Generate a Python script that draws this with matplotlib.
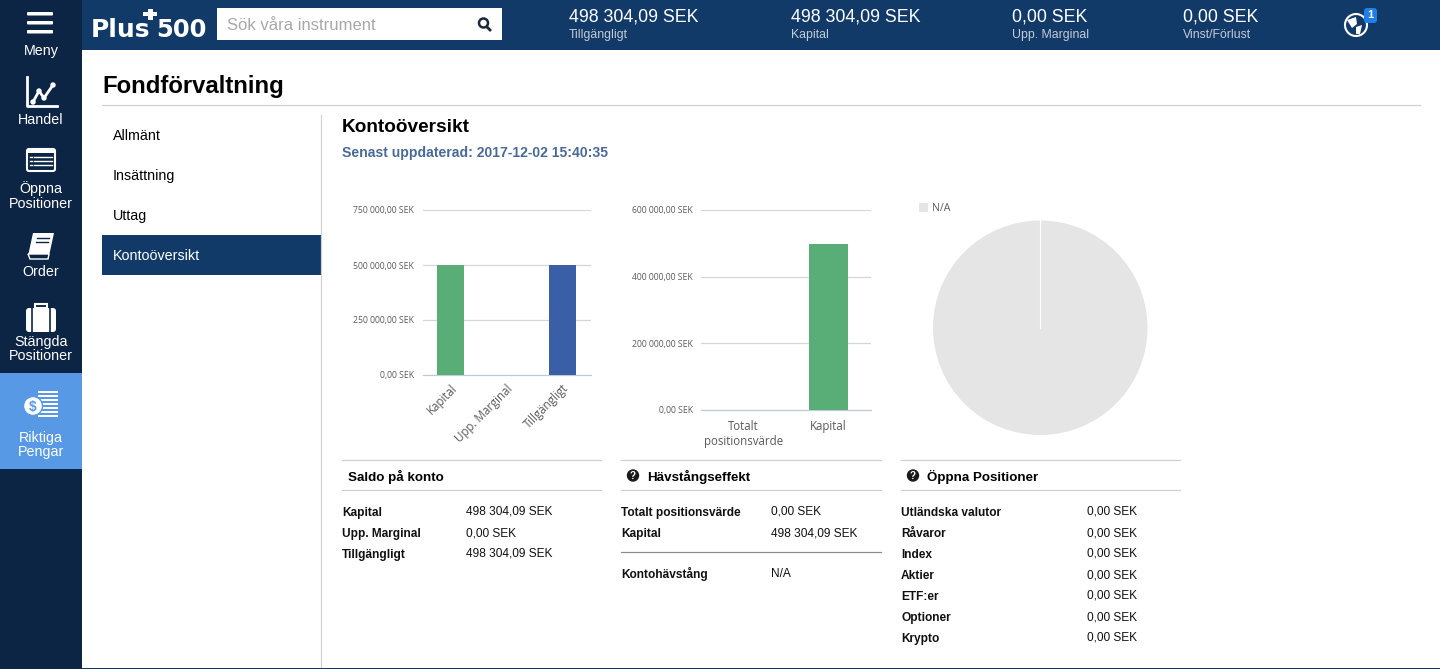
"""Account overview screen: two bar charts and a pie inside the web page frame."""
import matplotlib
matplotlib.use("Agg")
import matplotlib.pyplot as plt
from matplotlib.patches import Circle, FancyBboxPatch, Polygon, Rectangle
from matplotlib.transforms import ScaledTranslation

W, H = 1440, 669
plt.rcParams["font.family"] = ["Liberation Sans", "DejaVu Sans"]

# chart data
balance_labels = ["Kapital", "Upp. Marginal", "Tillgängligt"]
balance_values = [498304.09, 0, 498304.09]
balance_colors = ["#59ae77", "#59ae77", "#3a5fa6"]
balance_ticks = [0, 250000, 500000, 750000]
balance_ticklabels = ["0,00 SEK", "250 000,00 SEK", "500 000,00 SEK", "750 000,00 SEK"]

leverage_labels = ["Totalt\npositionsvärde", "Kapital"]
leverage_values = [0, 498304.09]
leverage_ticks = [0, 200000, 400000, 600000]
leverage_ticklabels = ["0,00 SEK", "200 000,00 SEK", "400 000,00 SEK", "600 000,00 SEK"]

pie_values = [1]
pie_labels = ["N/A"]

# page text
header_values = ["498 304,09 SEK", "498 304,09 SEK", "0,00 SEK", "0,00 SEK"]
header_names = ["Tillgängligt", "Kapital", "Upp. Marginal", "Vinst/Förlust"]
menu_items = ["Allmänt", "Insättning", "Uttag", "Kontoöversikt"]
saldo_names = ["Kapital", "Upp. Marginal", "Tillgängligt"]
saldo_values = ["498 304,09 SEK", "0,00 SEK", "498 304,09 SEK"]
lever_names = ["Totalt positionsvärde", "Kapital"]
lever_values = ["0,00 SEK", "498 304,09 SEK"]
open_names = ["Utländska valutor", "Råvaror", "Index", "Aktier", "ETF:er", "Optioner", "Krypto"]
open_values = ["0,00 SEK"] * 7

NAVY = "#0c2544"
BLUE = "#123a68"
LIGHT = "#5899e6"
GRID = "#d3d6da"
AXIS = "#bccbdc"
LABEL = "#5a5a5a"
RULE = "#cfcfcf"
PX = 0.72  # one pixel line width at dpi 100


def px_axes(fig, left, top, right, bottom):
    return fig.add_axes([left / W, 1 - bottom / H, (right - left) / W, (bottom - top) / H])


def rect(ax, x, y, w, h, color, **kw):
    ax.add_patch(Rectangle((x, y), w, h, facecolor=color, edgecolor="none", linewidth=0, **kw))


def bar_chart(fig, box, labels, values, colors, ticks, ticklabels, width, rotate):
    ax = px_axes(fig, *box)
    ax.set_axisbelow(False)
    ax.grid(axis="y", color=GRID, linewidth=PX * 1.2, zorder=1)
    ax.bar(range(len(labels)), values, width=width, color=colors, zorder=3)
    # white gap in the gridlines beside each bar is part of the look
    for i, v in enumerate(values):
        if v:
            ax.bar(i, v, width=width + 0.04, color="white", zorder=2)
    ax.set_xlim(-0.5, len(labels) - 0.5)
    ax.set_ylim(ticks[0], ticks[-1])
    ax.set_yticks(ticks, ticklabels, family="Open Sans", fontsize=6.2, color=LABEL)
    ax.set_xticks(range(len(labels)))
    if rotate:
        ax.set_xticklabels(labels, rotation=45, ha="right", rotation_mode="anchor",
                           family="Open Sans", fontsize=8.3, color=LABEL)
        shift = ScaledTranslation(-3 / 100, 0, fig.dpi_scale_trans)
        for tick in ax.get_xticklabels():
            tick.set_transform(tick.get_transform() + shift)
    else:
        ax.set_xticklabels(labels, family="Open Sans", fontsize=8.3, color=LABEL, linespacing=1.25)
    ax.tick_params(axis="both", length=0)
    ax.tick_params(axis="y", pad=6)
    ax.tick_params(axis="x", pad=5 if rotate else 7)
    for name in ["top", "left", "right"]:
        ax.spines[name].set_visible(False)
    ax.spines["bottom"].set_color(AXIS)
    ax.spines["bottom"].set_linewidth(PX * 1.2)
    ax.patch.set_alpha(0)
    return ax


def help_icon(page, x, y):
    page.add_patch(Circle((x, y), 5.5, color="#1a1a1a", zorder=4))
    page.text(x, y + 0.3, "?", color="white", fontsize=7, fontweight="bold", ha="center", va="center", zorder=5)


fig = plt.figure(figsize=(W / 100, H / 100), dpi=100, facecolor="white")
page = fig.add_axes([0, 0, 1, 1])
page.set_xlim(0, W)
page.set_ylim(H, 0)
page.axis("off")

# frame
rect(page, 0, 0, 82, H, NAVY)
rect(page, 82, 0, W - 82, 50, BLUE)
rect(page, 0, 373, 82, 96, LIGHT)
rect(page, 82, 667.5, W - 82, 1.5, BLUE)

# left rail labels
rail = [("Meny", 50.5), ("Handel", 119.5), ("Öppna\nPositioner", 196), ("Order", 272.5),
        ("Stängda\nPositioner", 349), ("Riktiga\nPengar", 445)]
for text, y in rail:
    page.text(41, y, text, color="white", fontsize=10.3, ha="center", va="center", linespacing=1.08)

# rail icons
for y in (12, 21, 30):
    page.add_patch(FancyBboxPatch((27, y), 26, 3.5, boxstyle="round,pad=0,rounding_size=1", fc="white", ec="none"))
page.plot([27, 27, 57], [77, 106, 106], color="white", lw=2)
page.plot([33, 39, 44, 53], [102, 91, 98, 85], color="white", lw=2)
for px, py in [(33, 102), (39, 91), (44, 98), (53, 85)]:
    page.add_patch(Circle((px, py), 2, color="white"))
page.add_patch(FancyBboxPatch((27, 149), 28, 22, boxstyle="round,pad=0,rounding_size=2", fc=NAVY, ec="white", lw=1.5))
rect(page, 27, 149, 28, 4, "white")
for y in (157, 161, 165):
    page.plot([30, 32], [y, y], color="white", lw=1)
    page.plot([34, 52], [y, y], color="white", lw=1)
page.add_patch(Polygon([[33, 233], [54, 233], [49, 256], [28, 256]], closed=True, fc="white", ec="none"))
page.add_patch(Polygon([[28, 254], [49, 254], [48, 259], [30, 259]], closed=True, fc=NAVY, ec="white", lw=1))
page.plot([37, 49], [238, 238], color=NAVY, lw=1)
page.plot([36, 48], [242, 242], color=NAVY, lw=1)
page.add_patch(FancyBboxPatch((26, 308), 30, 24, boxstyle="round,pad=0,rounding_size=3", fc="white", ec="none"))
page.add_patch(Rectangle((35, 304), 12, 4, fc=NAVY, ec="white", lw=1.5))
page.plot([32, 32], [308, 332], color=NAVY, lw=1.2)
page.plot([50, 50], [308, 332], color=NAVY, lw=1.2)
for y in range(391, 416, 4):
    rect(page, 38, y, 20, 2, "white")
page.add_patch(Circle((33, 406), 9.5, fc="white", ec=LIGHT, lw=1, zorder=3))
page.text(33, 406.5, "$", color=LIGHT, fontsize=10, fontweight="bold", ha="center", va="center", zorder=4)

# logo and search box
page.text(91, 30, "Plus", color="white", fontsize=18, fontweight="bold", ha="left", va="center", family="DejaVu Sans")
page.text(156, 30, "500", color="white", fontsize=17.5, fontweight="bold", ha="left", va="center", family="DejaVu Sans")
rect(page, 143, 11.5, 14, 4.5, "white")
rect(page, 148, 9, 4.5, 11, "white")
rect(page, 217, 8, 285, 32, "white")
page.text(227, 25, "Sök våra instrument", color="#a8a8a8", fontsize=12, ha="left", va="center")
page.add_patch(Circle((483.5, 23), 4.5, fc="white", ec="#1a2a3a", lw=1.8))
page.plot([487, 490], [27, 30], color="#1a2a3a", lw=2)

# header figures
for x, value, name in zip([569, 791, 1012, 1183], header_values, header_names):
    page.text(x, 22, value, color="white", fontsize=12.8, ha="left", va="baseline")
    page.text(x, 38, name, color="#c4ccd6", fontsize=8.8, ha="left", va="baseline")
page.add_patch(Circle((1356, 25), 11, fc=BLUE, ec="white", lw=1.5))
page.add_patch(Polygon([[1347, 20], [1356, 17], [1357, 24], [1352, 28]], closed=True, fc="white", ec="none"))
page.add_patch(Polygon([[1356, 27], [1362, 25], [1360, 34], [1356, 34]], closed=True, fc="white", ec="none"))
page.add_patch(FancyBboxPatch((1364, 8), 13, 15, boxstyle="round,pad=0,rounding_size=3", fc="#1e7fe8", ec="none"))
page.text(1370.5, 15.5, "1", color="white", fontsize=8, fontweight="bold", ha="center", va="center")

# page title and side menu
page.text(102, 86, "Fondförvaltning", color="black", fontsize=17.2, fontweight="bold", ha="left", va="center")
page.plot([102, 1420], [104.5, 104.5], color=RULE, lw=PX * 1.2)
page.plot([321, 321], [115, 667], color=RULE, lw=PX * 1.2)
rect(page, 102, 235, 219, 40, BLUE)
for text, y, color in zip(menu_items, [140, 180, 220, 260], ["black", "black", "black", "white"]):
    page.text(112.5, y, text, color=color, fontsize=10.3, ha="left", va="baseline")

page.text(342, 127, "Kontoöversikt", color="black", fontsize=13.7, fontweight="bold", ha="left", va="center")
page.text(342, 157, "Senast uppdaterad: 2017-12-02 15:40:35", color="#4a6a96", fontsize=10.1,
          fontweight="bold", ha="left", va="baseline")

# charts
bar_chart(fig, (422.5, 210, 590.5, 375), balance_labels, balance_values, balance_colors,
          balance_ticks, balance_ticklabels, 0.48, True)
bar_chart(fig, (701, 210, 871, 410), leverage_labels, leverage_values, ["#59ae77", "#59ae77"],
          leverage_ticks, leverage_ticklabels, 0.47, False)

pie_ax = px_axes(fig, 933, 220.5, 1147.5, 435)
pie_ax.pie(pie_values, colors=["#e5e5e5"], startangle=90, radius=1)
pie_ax.plot([0, 0], [0, 1], color="white", lw=PX * 1.2)
pie_ax.set_xlim(-1.0, 1.0)
pie_ax.set_ylim(-1.0, 1.0)
rect(page, 919, 203, 9, 9, "#e5e5e5")
page.text(932, 211, pie_labels[0], color=LABEL, fontsize=7.6, family="Open Sans", ha="left", va="baseline")

# tables
for x0, x1 in [(342, 601), (621, 881), (901, 1180)]:
    page.plot([x0, x1], [460, 460], color=RULE, lw=PX * 1.2)
    page.plot([x0, x1], [490, 490], color=RULE, lw=PX * 1.2)
page.text(348, 480.5, "Saldo på konto", color="black", fontsize=9.6, fontweight="bold", ha="left", va="baseline")
help_icon(page, 633, 475.5)
page.text(647, 480.5, "Hävstångseffekt", color="black", fontsize=9.6, fontweight="bold", ha="left", va="baseline")
help_icon(page, 913, 475.5)
page.text(927, 480.5, "Öppna Positioner", color="black", fontsize=9.6, fontweight="bold", ha="left", va="baseline")


def rows(x_name, x_value, names, values, y0):
    for i, (name, value) in enumerate(zip(names, values)):
        y = y0 + i * 21
        page.text(x_name, y + 1, name, color="#111111", fontsize=8.6, fontweight="bold", ha="left", va="baseline")
        page.text(x_value, y, value, color="#111111", fontsize=8.6, ha="left", va="baseline")


rows(342, 466, saldo_names, saldo_values, 515)
rows(621, 771, lever_names, lever_values, 515)
page.plot([621, 881], [552, 552], color="#8a8a8a", lw=PX * 1.2)
rows(621, 771, ["Kontohävstång"], ["N/A"], 577)
rows(901, 1087, open_names, open_values, 515)

fig.savefig("out.png", dpi=100)
